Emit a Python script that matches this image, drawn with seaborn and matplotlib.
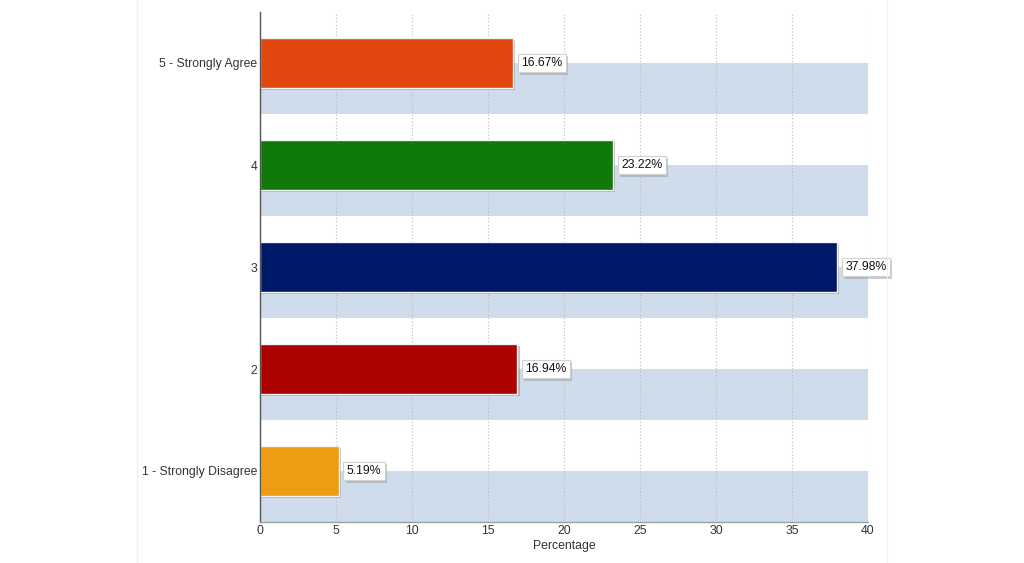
import matplotlib
matplotlib.use("Agg")
import matplotlib.pyplot as plt
import matplotlib.patheffects as pe
from matplotlib.lines import Line2D
import seaborn as sns
import pandas as pd

categories = ["5 - Strongly Agree", "4", "3", "2", "1 - Strongly Disagree"]
values = [16.67, 23.22, 37.98, 16.94, 5.19]
labels = ["16.67%", "23.22%", "37.98%", "16.94%", "5.19%"]
colors = ["#E2470F", "#107A08", "#001868", "#AD0000", "#EE9C12"]
xticks = [0, 5, 10, 15, 20, 25, 30, 35, 40]

sns.set_theme(style="white")
plt.rcParams['font.family'] = ['Liberation Sans', 'DejaVu Sans']

df = pd.DataFrame({"category": categories, "value": values})

fig = plt.figure(figsize=(10.24, 5.63), dpi=100)
ax = fig.add_axes([260/1024, 1 - 522/563, (868-260)/1024, (522-12)/563])

# background half bands
for i in range(len(categories)):
    ax.barh(i + 0.25, 40, height=0.5, color="#CFDCEB", zorder=0.3, linewidth=0)

sns.barplot(data=df, x="value", y="category", hue="category", order=categories,
            palette=colors, orient="h", width=0.49, legend=False, ax=ax, saturation=1,
            edgecolor="#f4f4f4", linewidth=1.0, zorder=2)
for p in ax.patches[len(categories):]:
    p.set_path_effects([pe.SimplePatchShadow(offset=(1.5, -1.5), shadow_rgbFace="#888888", alpha=0.5), pe.Normal()])

for i, (v, lab) in enumerate(zip(values, labels)):
    t = ax.annotate(lab, xy=(v, i), xytext=(8, 0), textcoords="offset pixels",
                    ha="left", va="center", fontsize=8.8, color="#111111", zorder=5,
                    bbox=dict(boxstyle="square,pad=0.28", fc="white", ec="#d0d0d0", lw=0.8))
    t.get_bbox_patch().set_path_effects([pe.SimplePatchShadow(offset=(1.5, -1.5), shadow_rgbFace="#999999", alpha=0.5), pe.Normal()])

ax.set_xlim(0, 40)
ax.set_ylim(len(categories) - 0.5, -0.5)
ax.set_xticks(xticks)
ax.set_xticklabels([str(x) for x in xticks])
ax.set_axisbelow(True)
ax.grid(axis="x", color="#bbbbbb", linestyle=(0, (1, 2)), linewidth=0.8, zorder=0.5)
ax.grid(axis="y", visible=False)
ax.set_xlabel("Percentage", fontsize=8.8, color="#333333", labelpad=2)
ax.set_ylabel("")
ax.tick_params(axis="both", length=0, labelsize=8.8, labelcolor="#333333", pad=2)
for s in ["top", "right"]:
    ax.spines[s].set_visible(False)
ax.spines["left"].set_color("#555555")
ax.spines["left"].set_linewidth(1.0)
ax.spines["bottom"].set_color("#9aa0aa")
ax.spines["bottom"].set_linewidth(1.0)
ax.set_facecolor("none")

for xp in [137, 887]:
    fig.add_artist(Line2D([xp/1024, xp/1024], [0, 1], color="#f0f0f0", lw=0.8))

fig.savefig("out.png", dpi=100)
